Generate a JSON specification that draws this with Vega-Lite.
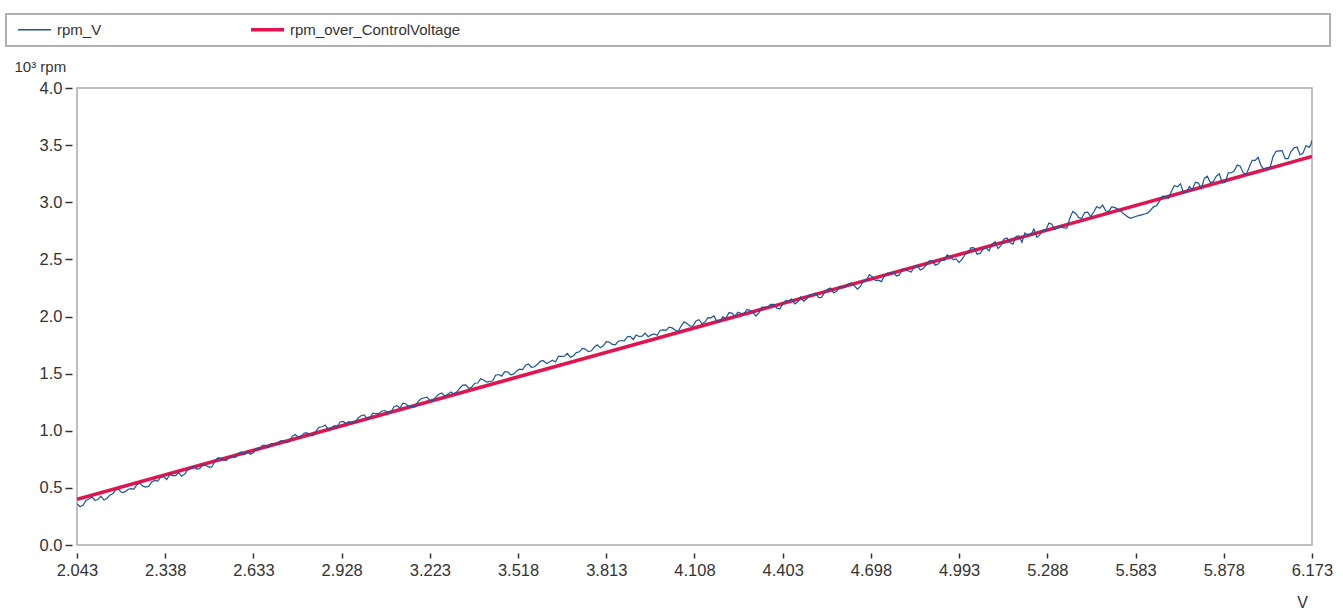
{
  "$schema": "https://vega.github.io/schema/vega-lite/v6.json",
  "width": 1235,
  "height": 457,
  "autosize": {"type": "none"},
  "padding": {"left": 77, "top": 88, "right": 31, "bottom": 64},
  "background": "white",
  "config": {
    "view": {"stroke": "#ababab", "strokeWidth": 1.5},
    "font": "Liberation Sans"
  },
  "datasets": {
    "measured": [
      {"v":2.043,"rpm":0.362},{"v":2.063,"rpm":0.348},{"v":2.083,"rpm":0.402},{"v":2.103,"rpm":0.392},{"v":2.123,"rpm":0.428},
      {"v":2.143,"rpm":0.407},{"v":2.163,"rpm":0.449},{"v":2.183,"rpm":0.485},{"v":2.203,"rpm":0.465},{"v":2.223,"rpm":0.494},
      {"v":2.243,"rpm":0.527},{"v":2.263,"rpm":0.515},{"v":2.283,"rpm":0.515},{"v":2.303,"rpm":0.565},{"v":2.323,"rpm":0.593},
      {"v":2.343,"rpm":0.573},{"v":2.363,"rpm":0.607},{"v":2.383,"rpm":0.633},{"v":2.403,"rpm":0.620},{"v":2.423,"rpm":0.674},
      {"v":2.443,"rpm":0.665},{"v":2.463,"rpm":0.702},{"v":2.483,"rpm":0.682},{"v":2.503,"rpm":0.724},{"v":2.523,"rpm":0.761},
      {"v":2.543,"rpm":0.741},{"v":2.563,"rpm":0.771},{"v":2.583,"rpm":0.804},{"v":2.603,"rpm":0.793},{"v":2.623,"rpm":0.794},
      {"v":2.643,"rpm":0.845},{"v":2.663,"rpm":0.873},{"v":2.683,"rpm":0.853},{"v":2.703,"rpm":0.887},{"v":2.723,"rpm":0.912},
      {"v":2.743,"rpm":0.898},{"v":2.763,"rpm":0.952},{"v":2.783,"rpm":0.942},{"v":2.803,"rpm":0.979},{"v":2.823,"rpm":0.958},
      {"v":2.843,"rpm":0.999},{"v":2.863,"rpm":1.035},{"v":2.883,"rpm":1.015},{"v":2.903,"rpm":1.044},{"v":2.923,"rpm":1.077},
      {"v":2.943,"rpm":1.064},{"v":2.963,"rpm":1.063},{"v":2.983,"rpm":1.112},{"v":3.003,"rpm":1.138},{"v":3.023,"rpm":1.117},
      {"v":3.043,"rpm":1.149},{"v":3.063,"rpm":1.173},{"v":3.083,"rpm":1.157},{"v":3.103,"rpm":1.210},{"v":3.123,"rpm":1.199},
      {"v":3.143,"rpm":1.234},{"v":3.163,"rpm":1.212},{"v":3.183,"rpm":1.252},{"v":3.203,"rpm":1.287},{"v":3.223,"rpm":1.265},
      {"v":3.243,"rpm":1.295},{"v":3.263,"rpm":1.330},{"v":3.283,"rpm":1.319},{"v":3.303,"rpm":1.321},{"v":3.323,"rpm":1.372},
      {"v":3.343,"rpm":1.401},{"v":3.363,"rpm":1.383},{"v":3.383,"rpm":1.418},{"v":3.403,"rpm":1.444},{"v":3.423,"rpm":1.431},
      {"v":3.443,"rpm":1.486},{"v":3.463,"rpm":1.478},{"v":3.483,"rpm":1.516},{"v":3.503,"rpm":1.496},{"v":3.523,"rpm":1.539},
      {"v":3.543,"rpm":1.574},{"v":3.563,"rpm":1.554},{"v":3.583,"rpm":1.582},{"v":3.603,"rpm":1.614},{"v":3.623,"rpm":1.601},
      {"v":3.643,"rpm":1.602},{"v":3.663,"rpm":1.651},{"v":3.683,"rpm":1.678},{"v":3.703,"rpm":1.657},{"v":3.723,"rpm":1.691},
      {"v":3.743,"rpm":1.715},{"v":3.763,"rpm":1.700},{"v":3.783,"rpm":1.753},{"v":3.803,"rpm":1.743},{"v":3.823,"rpm":1.776},
      {"v":3.843,"rpm":1.752},{"v":3.863,"rpm":1.790},{"v":3.883,"rpm":1.823},{"v":3.903,"rpm":1.799},{"v":3.923,"rpm":1.825},
      {"v":3.943,"rpm":1.854},{"v":3.963,"rpm":1.839},{"v":3.983,"rpm":1.836},{"v":4.003,"rpm":1.883},{"v":4.023,"rpm":1.907},
      {"v":4.043,"rpm":1.881},{"v":4.063,"rpm":1.915},{"v":4.083,"rpm":1.938},{"v":4.103,"rpm":1.915},{"v":4.123,"rpm":1.972},
      {"v":4.143,"rpm":1.952},{"v":4.163,"rpm":1.988},{"v":4.183,"rpm":1.955},{"v":4.203,"rpm":1.997},{"v":4.223,"rpm":2.033},
      {"v":4.243,"rpm":2.001},{"v":4.263,"rpm":2.027},{"v":4.283,"rpm":2.059},{"v":4.303,"rpm":2.036},{"v":4.323,"rpm":2.030},
      {"v":4.343,"rpm":2.082},{"v":4.363,"rpm":2.107},{"v":4.383,"rpm":2.075},{"v":4.403,"rpm":2.108},{"v":4.423,"rpm":2.133},
      {"v":4.443,"rpm":2.111},{"v":4.463,"rpm":2.172},{"v":4.483,"rpm":2.155},{"v":4.503,"rpm":2.195},{"v":4.523,"rpm":2.165},
      {"v":4.543,"rpm":2.211},{"v":4.563,"rpm":2.250},{"v":4.583,"rpm":2.221},{"v":4.603,"rpm":2.251},{"v":4.623,"rpm":2.286},
      {"v":4.643,"rpm":2.267},{"v":4.663,"rpm":2.263},{"v":4.683,"rpm":2.319},{"v":4.703,"rpm":2.347},{"v":4.723,"rpm":2.318},
      {"v":4.743,"rpm":2.354},{"v":4.763,"rpm":2.378},{"v":4.783,"rpm":2.355},{"v":4.803,"rpm":2.415},{"v":4.823,"rpm":2.398},
      {"v":4.843,"rpm":2.437},{"v":4.863,"rpm":2.407},{"v":4.883,"rpm":2.452},{"v":4.903,"rpm":2.489},{"v":4.923,"rpm":2.460},
      {"v":4.943,"rpm":2.489},{"v":4.963,"rpm":2.524},{"v":4.983,"rpm":2.504},{"v":5.003,"rpm":2.501},{"v":5.023,"rpm":2.558},
      {"v":5.043,"rpm":2.601},{"v":5.063,"rpm":2.552},{"v":5.083,"rpm":2.600},{"v":5.103,"rpm":2.633},{"v":5.123,"rpm":2.595},
      {"v":5.143,"rpm":2.679},{"v":5.163,"rpm":2.647},{"v":5.183,"rpm":2.701},{"v":5.203,"rpm":2.650},{"v":5.223,"rpm":2.713},
      {"v":5.243,"rpm":2.765},{"v":5.263,"rpm":2.716},{"v":5.283,"rpm":2.756},{"v":5.303,"rpm":2.808},{"v":5.323,"rpm":2.780},
      {"v":5.343,"rpm":2.775},{"v":5.363,"rpm":2.858},{"v":5.383,"rpm":2.902},{"v":5.403,"rpm":2.859},{"v":5.423,"rpm":2.913},
      {"v":5.443,"rpm":2.915},{"v":5.463,"rpm":2.948},{"v":5.483,"rpm":2.925},{"v":5.503,"rpm":2.960},{"v":5.523,"rpm":2.940},
      {"v":5.543,"rpm":2.900},{"v":5.563,"rpm":2.862},{"v":5.583,"rpm":2.875},{"v":5.603,"rpm":2.890},{"v":5.623,"rpm":2.905},
      {"v":5.643,"rpm":2.960},{"v":5.663,"rpm":3.010},{"v":5.683,"rpm":3.050},{"v":5.703,"rpm":3.097},{"v":5.723,"rpm":3.135},
      {"v":5.743,"rpm":3.087},{"v":5.763,"rpm":3.137},{"v":5.783,"rpm":3.176},{"v":5.803,"rpm":3.120},{"v":5.823,"rpm":3.228},
      {"v":5.843,"rpm":3.182},{"v":5.863,"rpm":3.249},{"v":5.883,"rpm":3.176},{"v":5.903,"rpm":3.258},{"v":5.923,"rpm":3.325},
      {"v":5.943,"rpm":3.257},{"v":5.963,"rpm":3.307},{"v":5.983,"rpm":3.366},{"v":6.003,"rpm":3.318},{"v":6.023,"rpm":3.301},
      {"v":6.043,"rpm":3.402},{"v":6.063,"rpm":3.449},{"v":6.083,"rpm":3.382},{"v":6.103,"rpm":3.443},{"v":6.123,"rpm":3.484},
      {"v":6.143,"rpm":3.431},{"v":6.163,"rpm":3.480},{"v":6.173,"rpm":3.540},
      {"v":2.053,"rpm":0.335},{"v":2.073,"rpm":0.390},{"v":2.093,"rpm":0.422},{"v":2.113,"rpm":0.398},{"v":2.133,"rpm":0.394},
      {"v":2.153,"rpm":0.438},{"v":2.173,"rpm":0.485},{"v":2.193,"rpm":0.459},{"v":2.213,"rpm":0.486},{"v":2.233,"rpm":0.489},
      {"v":2.253,"rpm":0.541},{"v":2.273,"rpm":0.507},{"v":2.293,"rpm":0.552},{"v":2.313,"rpm":0.559},{"v":2.333,"rpm":0.598},
      {"v":2.353,"rpm":0.615},{"v":2.373,"rpm":0.608},{"v":2.393,"rpm":0.603},{"v":2.413,"rpm":0.657},{"v":2.433,"rpm":0.688},
      {"v":2.453,"rpm":0.668},{"v":2.473,"rpm":0.698},{"v":2.493,"rpm":0.681},{"v":2.513,"rpm":0.763},{"v":2.533,"rpm":0.743},
      {"v":2.553,"rpm":0.768},{"v":2.573,"rpm":0.768},{"v":2.593,"rpm":0.814},{"v":2.613,"rpm":0.819},{"v":2.633,"rpm":0.808},
      {"v":2.653,"rpm":0.835},{"v":2.673,"rpm":0.873},{"v":2.693,"rpm":0.888},{"v":2.713,"rpm":0.884},{"v":2.733,"rpm":0.911},
      {"v":2.753,"rpm":0.903},{"v":2.773,"rpm":0.967},{"v":2.793,"rpm":0.953},{"v":2.813,"rpm":0.981},{"v":2.833,"rpm":0.959},
      {"v":2.853,"rpm":1.032},{"v":2.873,"rpm":1.050},{"v":2.893,"rpm":1.018},{"v":2.913,"rpm":1.037},{"v":2.933,"rpm":1.081},
      {"v":2.953,"rpm":1.082},{"v":2.973,"rpm":1.072},{"v":2.993,"rpm":1.131},{"v":3.013,"rpm":1.106},{"v":3.033,"rpm":1.153},
      {"v":3.053,"rpm":1.153},{"v":3.073,"rpm":1.177},{"v":3.093,"rpm":1.164},{"v":3.113,"rpm":1.220},{"v":3.133,"rpm":1.242},
      {"v":3.153,"rpm":1.211},{"v":3.173,"rpm":1.208},{"v":3.193,"rpm":1.280},{"v":3.213,"rpm":1.294},{"v":3.233,"rpm":1.264},
      {"v":3.253,"rpm":1.319},{"v":3.273,"rpm":1.303},{"v":3.293,"rpm":1.340},{"v":3.313,"rpm":1.339},{"v":3.333,"rpm":1.399},
      {"v":3.353,"rpm":1.372},{"v":3.373,"rpm":1.416},{"v":3.393,"rpm":1.456},{"v":3.413,"rpm":1.426},{"v":3.433,"rpm":1.435},
      {"v":3.453,"rpm":1.492},{"v":3.473,"rpm":1.515},{"v":3.493,"rpm":1.490},{"v":3.513,"rpm":1.524},{"v":3.533,"rpm":1.535},
      {"v":3.553,"rpm":1.584},{"v":3.573,"rpm":1.560},{"v":3.593,"rpm":1.610},{"v":3.613,"rpm":1.588},{"v":3.633,"rpm":1.617},
      {"v":3.653,"rpm":1.652},{"v":3.673,"rpm":1.653},{"v":3.693,"rpm":1.644},{"v":3.713,"rpm":1.684},{"v":3.733,"rpm":1.721},
      {"v":3.753,"rpm":1.692},{"v":3.773,"rpm":1.733},{"v":3.793,"rpm":1.726},{"v":3.813,"rpm":1.780},{"v":3.833,"rpm":1.756},
      {"v":3.853,"rpm":1.783},{"v":3.873,"rpm":1.787},{"v":3.893,"rpm":1.826},{"v":3.913,"rpm":1.837},{"v":3.933,"rpm":1.828},
      {"v":3.953,"rpm":1.823},{"v":3.973,"rpm":1.848},{"v":3.993,"rpm":1.878},{"v":4.013,"rpm":1.879},{"v":4.033,"rpm":1.900},
      {"v":4.053,"rpm":1.869},{"v":4.073,"rpm":1.953},{"v":4.093,"rpm":1.917},{"v":4.113,"rpm":1.960},{"v":4.133,"rpm":1.936},
      {"v":4.153,"rpm":1.990},{"v":4.173,"rpm":2.005},{"v":4.193,"rpm":1.960},{"v":4.213,"rpm":1.984},{"v":4.233,"rpm":2.030},
      {"v":4.253,"rpm":2.037},{"v":4.273,"rpm":2.022},{"v":4.293,"rpm":2.056},{"v":4.313,"rpm":2.004},{"v":4.333,"rpm":2.082},
      {"v":4.353,"rpm":2.085},{"v":4.373,"rpm":2.107},{"v":4.393,"rpm":2.066},{"v":4.413,"rpm":2.141},{"v":4.433,"rpm":2.155},
      {"v":4.453,"rpm":2.126},{"v":4.473,"rpm":2.133},{"v":4.493,"rpm":2.188},{"v":4.513,"rpm":2.203},{"v":4.533,"rpm":2.167},
      {"v":4.553,"rpm":2.239},{"v":4.573,"rpm":2.207},{"v":4.593,"rpm":2.262},{"v":4.613,"rpm":2.259},{"v":4.633,"rpm":2.293},
      {"v":4.653,"rpm":2.239},{"v":4.673,"rpm":2.311},{"v":4.693,"rpm":2.366},{"v":4.713,"rpm":2.317},{"v":4.733,"rpm":2.305},
      {"v":4.753,"rpm":2.379},{"v":4.773,"rpm":2.390},{"v":4.793,"rpm":2.364},{"v":4.813,"rpm":2.415},{"v":4.833,"rpm":2.389},
      {"v":4.853,"rpm":2.448},{"v":4.873,"rpm":2.420},{"v":4.893,"rpm":2.487},{"v":4.913,"rpm":2.449},{"v":4.933,"rpm":2.495},
      {"v":4.953,"rpm":2.540},{"v":4.973,"rpm":2.498},{"v":4.993,"rpm":2.472},{"v":5.013,"rpm":2.543},{"v":5.033,"rpm":2.603},
      {"v":5.053,"rpm":2.545},{"v":5.073,"rpm":2.588},{"v":5.093,"rpm":2.573},{"v":5.113,"rpm":2.654},{"v":5.133,"rpm":2.621},
      {"v":5.153,"rpm":2.687},{"v":5.173,"rpm":2.634},{"v":5.193,"rpm":2.706},{"v":5.213,"rpm":2.732},{"v":5.233,"rpm":2.715},
      {"v":5.253,"rpm":2.693},{"v":5.273,"rpm":2.756},{"v":5.293,"rpm":2.818},{"v":5.313,"rpm":2.762},{"v":5.333,"rpm":2.790},
      {"v":5.353,"rpm":2.773},{"v":5.373,"rpm":2.920},{"v":5.393,"rpm":2.865},{"v":5.413,"rpm":2.910},{"v":5.433,"rpm":2.874},
      {"v":5.453,"rpm":2.962},{"v":5.473,"rpm":2.975},{"v":5.493,"rpm":2.919},{"v":5.513,"rpm":2.955},{"v":5.533,"rpm":2.922},
      {"v":5.553,"rpm":2.880},{"v":5.573,"rpm":2.866},{"v":5.593,"rpm":2.883},{"v":5.613,"rpm":2.897},{"v":5.633,"rpm":2.930},
      {"v":5.653,"rpm":2.969},{"v":5.673,"rpm":3.054},{"v":5.693,"rpm":3.034},{"v":5.713,"rpm":3.146},{"v":5.733,"rpm":3.161},
      {"v":5.753,"rpm":3.088},{"v":5.773,"rpm":3.109},{"v":5.793,"rpm":3.168},{"v":5.813,"rpm":3.210},{"v":5.833,"rpm":3.173},
      {"v":5.853,"rpm":3.228},{"v":5.873,"rpm":3.169},{"v":5.893,"rpm":3.257},{"v":5.913,"rpm":3.276},{"v":5.933,"rpm":3.315},
      {"v":5.953,"rpm":3.242},{"v":5.973,"rpm":3.367},{"v":5.993,"rpm":3.392},{"v":6.013,"rpm":3.286},{"v":6.033,"rpm":3.304},
      {"v":6.053,"rpm":3.446},{"v":6.073,"rpm":3.452},{"v":6.093,"rpm":3.381},{"v":6.113,"rpm":3.476},{"v":6.133,"rpm":3.414},
      {"v":6.153,"rpm":3.496},{"v":6.168,"rpm":3.500}
    ],
    "fit": [
      {"v":2.043,"rpm":0.40},{"v":6.173,"rpm":3.40}
    ]
  },
  "layer": [
    {
      "data": {"name": "fit"},
      "mark": {"type": "line", "strokeWidth": 3.5, "clip": true},
      "encoding": {
        "x": {
          "field": "v", "type": "quantitative",
          "scale": {"domain": [2.043, 6.173], "nice": false, "zero": false},
          "axis": {
            "title": "V", "titleX": 1225, "titleY": 49, "titleAlign": "center", "titleBaseline": "middle",
            "titleFontSize": 16, "titleFontWeight": "normal", "titleColor": "#333333",
            "values": [2.043, 2.338, 2.633, 2.928, 3.223, 3.518, 3.813, 4.108, 4.403, 4.698, 4.993, 5.288, 5.583, 5.878, 6.173],
            "format": ".3f", "domain": false, "grid": false, "offset": 8,
            "tickSize": 5, "tickWidth": 1.5, "tickColor": "#333333",
            "labelPadding": 4, "labelFontSize": 16.5, "labelColor": "#333333",
            "labelOverlap": false, "labelFlush": false, "labelBound": false
          }
        },
        "y": {
          "field": "rpm", "type": "quantitative",
          "scale": {"domain": [0, 4], "nice": false},
          "axis": {
            "title": "10³ rpm", "titleAngle": 0, "titleAlign": "left", "titleBaseline": "middle",
            "titleX": -58, "titleY": -22, "titleFontSize": 15, "titleFontWeight": "normal", "titleColor": "#333333",
            "values": [0, 0.5, 1, 1.5, 2, 2.5, 3, 3.5, 4],
            "format": ".1f", "domain": false, "grid": false, "offset": 5,
            "tickSize": 7, "tickWidth": 1.5, "tickColor": "#333333",
            "labelPadding": 3, "labelFontSize": 16.5, "labelColor": "#333333",
            "labelOverlap": false, "labelBound": false
          }
        },
        "color": {
          "datum": "rpm_over_ControlVoltage", "type": "nominal",
          "scale": {
            "domain": ["rpm_V", "rpm_over_ControlVoltage", "pad"],
            "range": ["#1d5495", "#e2134f", "rgba(255,255,255,0)"]
          },
          "legend": {
            "title": null, "orient": "none", "legendX": -71, "legendY": -74,
            "direction": "horizontal", "columns": 3, "gridAlign": "each", "columnPadding": 142,
            "symbolType": "stroke", "symbolSize": 1089, "symbolStrokeWidth": 1.5, "symbolOffset": 13,
            "labelFontSize": 15, "labelColor": "#333333", "labelOffset": 15, "labelLimit": 2000,
            "padding": 8, "strokeColor": "#b0b0b0",
            "labelExpr": "datum.value == 'pad' ? pad('', 81, '_') : datum.label",
            "encode": {
              "symbols": {"update": {"strokeWidth": {"signal": "datum.value == 'rpm_over_ControlVoltage' ? 3.5 : 1.5"}}},
              "labels": {"update": {"fill": {"signal": "datum.value == 'pad' ? 'rgba(255,255,255,0)' : '#333333'"}}},
              "legend": {"update": {"strokeWidth": {"value": 2}}}
            }
          }
        }
      }
    },
    {
      "data": {"name": "measured"},
      "mark": {"type": "line", "strokeWidth": 1.2, "clip": true},
      "encoding": {
        "x": {"field": "v", "type": "quantitative"},
        "y": {"field": "rpm", "type": "quantitative"},
        "color": {"datum": "rpm_V", "type": "nominal"}
      }
    }
  ]
}
